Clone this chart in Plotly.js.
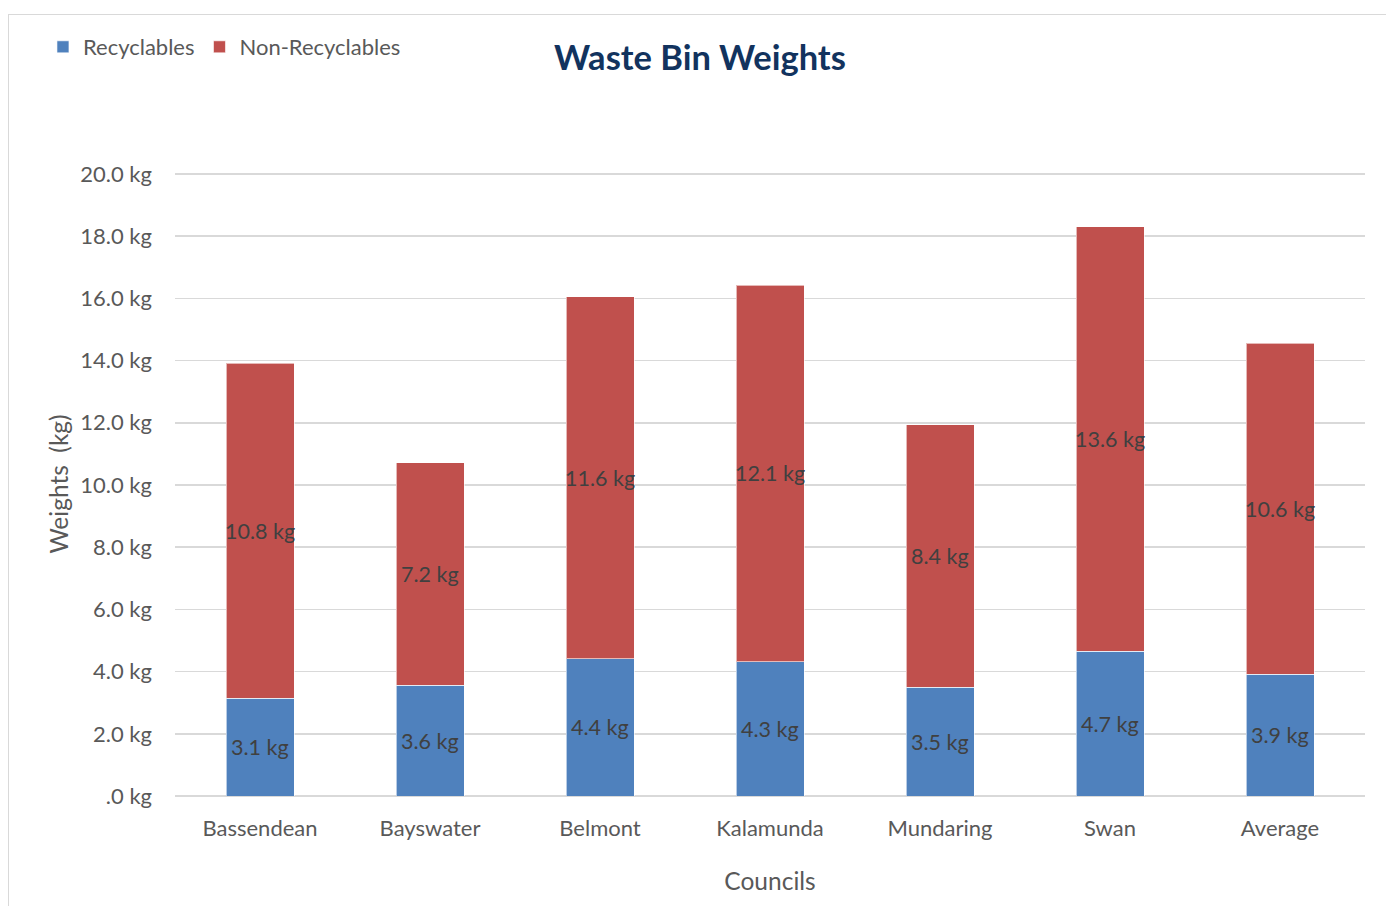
<!DOCTYPE html>
<html>
<head>
<meta charset="utf-8">
<script src="https://cdn.plot.ly/plotly-3.0.1.min.js"></script>
<style>
html,body{margin:0;padding:0;background:#fff;overflow:hidden;}
#chart{position:absolute;left:0;top:0;width:1386px;height:906px;}
#frame{position:absolute;left:8px;top:14px;width:1400px;height:920px;border:1.5px solid #d9d9d9;pointer-events:none;}
</style>
</head>
<body>
<div id="chart"></div>
<div id="frame"></div>
<script>
const councils = ["Bassendean","Bayswater","Belmont","Kalamunda","Mundaring","Swan","Average"];
const recyclables = [3.15, 3.56, 4.41, 4.31, 3.50, 4.66, 3.92];
const nonRecyclables = [10.77, 7.16, 11.64, 12.12, 8.43, 13.64, 10.64];
const yTickVals = [0,2,4,6,8,10,12,14,16,18,20];
const yTickText = [".0 kg","2.0 kg","4.0 kg","6.0 kg","8.0 kg","10.0 kg","12.0 kg","14.0 kg","16.0 kg","18.0 kg","20.0 kg"];

const FONT = "Lato, 'Open Sans', sans-serif";
const labelFont = {family: FONT, size: 21.5, color: "#404040"};

const annotations = [];
councils.forEach((c,i)=>{
  annotations.push({x:c, y:recyclables[i]/2, xref:"x", yref:"y", text:recyclables[i].toFixed(1)+" kg", showarrow:false, font:labelFont});
  annotations.push({x:c, y:recyclables[i]+nonRecyclables[i]/2, xref:"x", yref:"y", text:nonRecyclables[i].toFixed(1)+" kg", showarrow:false, font:labelFont});
});

const traces = [
  {type:"bar", name:"Recyclables", x:councils, y:recyclables, marker:{color:"#4f81bd", line:{color:"rgba(255,255,255,0.6)", width:1}}, hoverinfo:"y"},
  {type:"bar", name:"Non-Recyclables", x:councils, y:nonRecyclables, marker:{color:"#c0504d", line:{color:"rgba(255,255,255,0.6)", width:1}}, hoverinfo:"y"}
];

const layout = {
  width:1386, height:906,
  barmode:"stack", bargap:0.6,
  margin:{l:175, r:21, t:172, b:110},
  paper_bgcolor:"#fff", plot_bgcolor:"#fff",
  font:{family:FONT, color:"#595959"},
  title:{text:"<b>Waste Bin Weights</b>", font:{family:FONT, size:34.5, color:"#12335e"}, xref:"container", yref:"container", x:0.505, xanchor:"center", y:1-58/906, yanchor:"middle"},
  showlegend:true,
  legend:{orientation:"h", xref:"container", yref:"container", x:0.031, xanchor:"left", y:1-47/906, yanchor:"middle", font:{family:FONT, size:22, color:"#595959"}, itemwidth:30, traceorder:"normal"},
  xaxis:{type:"category", showgrid:false, zeroline:false, showline:false, ticks:"", tickfont:{family:FONT, size:22, color:"#595959"}, ticklabelstandoff:17,
    title:{text:"Councils", font:{family:FONT, size:24.5, color:"#595959"}, standoff:32}},
  yaxis:{range:[0,20.064], tickvals:yTickVals, ticktext:yTickText, showgrid:true, gridcolor:"#d9d9d9", gridwidth:1.5, zeroline:true, zerolinecolor:"#d9d9d9", zerolinewidth:1.5, showline:false, ticks:"",
    tickfont:{family:FONT, size:22, color:"#595959"}, ticklabelstandoff:22,
    title:{text:"Weights&nbsp;&nbsp;(kg)", font:{family:FONT, size:24.5, color:"#595959"}, standoff:4}},
  annotations:annotations
};

Plotly.newPlot("chart", traces, layout, {displayModeBar:false, staticPlot:true});
</script>
</body>
</html>
